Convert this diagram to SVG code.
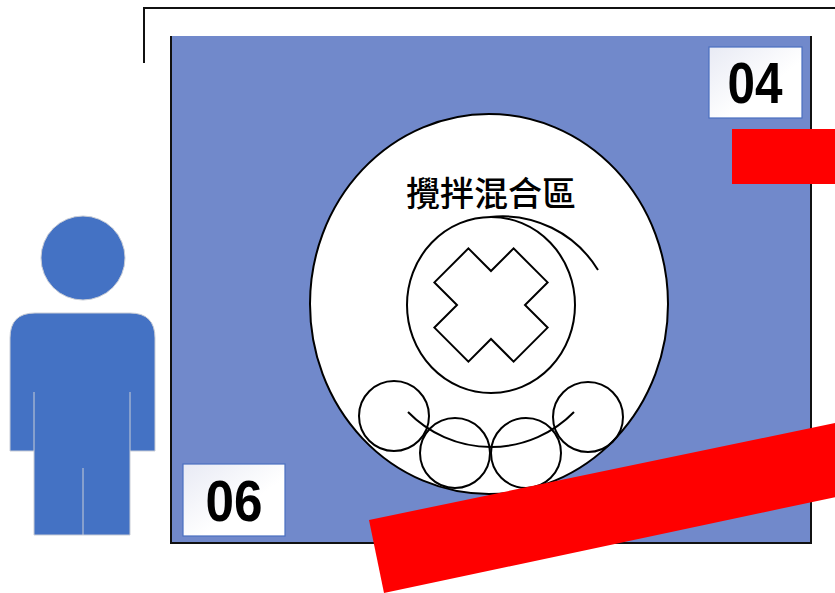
<svg xmlns="http://www.w3.org/2000/svg" width="835" height="593" viewBox="0 0 835 593">
  <defs>
    <linearGradient id="labelFill" x1="0" y1="0" x2="1" y2="1">
      <stop offset="0" stop-color="#e8eaf4"/>
      <stop offset="0.6" stop-color="#ffffff"/>
    </linearGradient>
    <style>
      .edge { stroke: #111; stroke-width: 2; fill: none; }
      .line { stroke: #000; stroke-width: 2; fill: none; }
      .label-box { fill: url(#labelFill); stroke: #4a6fc0; stroke-width: 1.2; }
      .label-text { font-family: "Liberation Sans", Arial, sans-serif; font-weight: bold; font-size: 58px; fill: #000; text-anchor: middle; }
      .person { fill: #4472c4; stroke: #c9cdd6; stroke-width: 1; }
      .red { fill: #ff0000; }
    </style>
  </defs>

  <!-- background frame corner -->
  <g id="frame">
    <path class="edge" d="M144 63 V8 H835"/>
  </g>

  <!-- machine panel -->
  <g id="panel">
    <rect x="171" y="36" width="640" height="507" fill="#7189cb"/>
    <path class="edge" d="M171 36 V543 H811 V36"/>
  </g>

  <!-- mixing zone -->
  <g id="mixing-zone">
    <ellipse cx="489" cy="304" rx="179" ry="190" fill="#fff" stroke="#000" stroke-width="2"/>
    <text x="491" y="206" font-family="'Noto Sans CJK TC', 'Noto Sans CJK SC', sans-serif" font-size="34" font-weight="500" text-anchor="middle" fill="#000">攪拌混合區</text>
    <ellipse class="line" cx="491" cy="305" rx="84" ry="88"/>
    <path class="line" d="M490 217 A112 112 0 0 1 598 270"/>
    <polygon class="line" points="491,271 513.6,248.4 547.6,282.4 525,305 547.6,327.6 513.6,361.6 491,339 468.4,361.6 434.4,327.6 457,305 434.4,282.4 468.4,248.4"/>
    <circle class="line" cx="394" cy="416" r="35"/>
    <circle class="line" cx="455" cy="453" r="35"/>
    <circle class="line" cx="526" cy="453" r="35"/>
    <circle class="line" cx="588" cy="417" r="35"/>
    <path class="line" d="M408 412 A116 116 0 0 0 574 412"/>
  </g>

  <!-- station labels -->
  <g id="label-04">
    <rect class="label-box" x="709" y="47" width="93" height="71"/>
    <text class="label-text" x="755" y="103" textLength="55" lengthAdjust="spacingAndGlyphs">04</text>
  </g>
  <g id="label-06">
    <rect class="label-box" x="183" y="464" width="102" height="72"/>
    <text class="label-text" x="234" y="521" textLength="57" lengthAdjust="spacingAndGlyphs">06</text>
  </g>

  <!-- red markers -->
  <g id="marker-top">
    <rect class="red" x="732" y="129" width="110" height="55"/>
  </g>
  <g id="marker-band">
    <polygon class="red" points="369,520 845,421 845,495 384,593"/>
  </g>

  <!-- operator -->
  <g id="operator">
    <circle class="person" cx="83" cy="258" r="42"/>
    <path class="person" d="M10 451 V338 Q10 313 35 313 H130 Q155 313 155 338 V451 H130 V535 H34 V451 Z"/>
    <path d="M34 392 V451 M130 392 V451 M83 468 V535" stroke="#c9cdd6" stroke-width="1" fill="none"/>
  </g>
</svg>
